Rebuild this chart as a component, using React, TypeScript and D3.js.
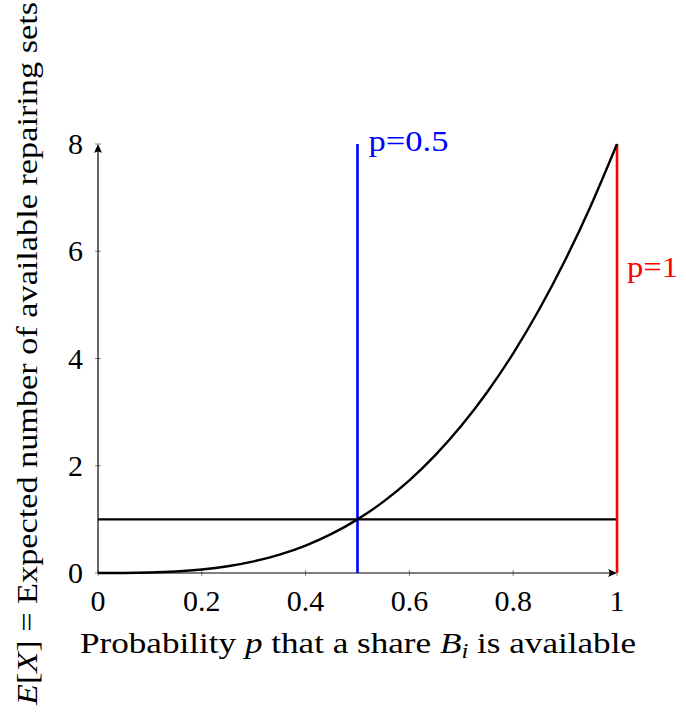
import React from "react";
import * as d3 from "d3";

const pValues = [0, 0.05, 0.1, 0.15, 0.2, 0.25, 0.3, 0.35, 0.4, 0.45, 0.5, 0.55, 0.6, 0.65, 0.7, 0.75, 0.8, 0.85, 0.9, 0.95, 1];
const expectedSets = [0, 0.001, 0.008, 0.027, 0.064, 0.125, 0.216, 0.343, 0.512, 0.729, 1, 1.331, 1.728, 2.197, 2.744, 3.375, 4.096, 4.913, 5.832, 6.859, 8];
const xTicks = [0, 0.2, 0.4, 0.6, 0.8, 1];
const xTickLabels = ["0", "0.2", "0.4", "0.6", "0.8", "1"];
const yTicks = [0, 2, 4, 6, 8];
const yTickLabels = ["0", "2", "4", "6", "8"];
const thresholdY = 1;
const markers = [
  { p: 0.5, label: "p=0.5", color: "#0000ff" },
  { p: 1, label: "p=1", color: "#ff0000" },
];

const W = 686;
const H = 717;
const ts: React.CSSProperties = { fontFamily: "Liberation Serif" };

export default function App() {
  const x = d3.scaleLinear().domain([0, 1]).range([98, 617]);
  const y = d3.scaleLinear().domain([0, 8]).range([573, 144]);
  const pts: [number, number][] = pValues.map((p, i) => [p, expectedSets[i]]);
  const line = d3
    .line<[number, number]>()
    .x((d) => x(d[0]))
    .y((d) => y(d[1]))
    .curve(d3.curveMonotoneX);

  const x0 = x(0), x1 = x(1), y0 = y(0), y8 = y(8);

  return (
    <svg width={W} height={H} style={{ position: "absolute", left: 0, top: 0, background: "#fff" }}>
      <rect width={W} height={H} fill="#fff" />
      {xTicks.map((t) => (
        <line key={"xt" + t} x1={x(t)} x2={x(t)} y1={y0 - 3} y2={y0 + 3} stroke="#888" strokeWidth={1} />
      ))}
      {yTicks.map((t) => (
        <line key={"yt" + t} x1={x0 - 3} x2={x0 + 3} y1={y(t)} y2={y(t)} stroke="#888" strokeWidth={1} />
      ))}
      <line x1={x0} x2={x1 - 2} y1={y0} y2={y0} stroke="#000" strokeWidth={1.2} />
      <line x1={x0} x2={x0} y1={y0} y2={y8 + 2} stroke="#000" strokeWidth={1.2} />
      <path d={`M${x1},${y0} L${x1 - 9},${y0 - 4} Q${x1 - 6},${y0} ${x1 - 9},${y0 + 4} Z`} fill="#000" />
      <path d={`M${x0},${y8} L${x0 - 4},${y8 + 9} Q${x0},${y8 + 6} ${x0 + 4},${y8 + 9} Z`} fill="#000" />
      <line x1={x0} x2={x1} y1={y(thresholdY)} y2={y(thresholdY)} stroke="#000" strokeWidth={2.2} />
      {markers.map((m) => (
        <line key={m.label} x1={x(m.p)} x2={x(m.p)} y1={y0} y2={y8} stroke={m.color} strokeWidth={2.6} />
      ))}
      <path d={line(pts) || ""} fill="none" stroke="#000" strokeWidth={2.4} />
      <text style={ts} x={x(0.5) + 11} y={151} fontSize={30} fill="#0000ff" textLength={80} lengthAdjust="spacingAndGlyphs">{markers[0].label}</text>
      <text style={ts} x={x(1) + 10} y={277} fontSize={30} fill="#ff0000" textLength={51} lengthAdjust="spacingAndGlyphs">{markers[1].label}</text>
      {xTicks.map((t, i) => (
        <text style={ts} key={"xl" + t} x={x(t)} y={611} fontSize={30} textAnchor="middle" fill="#000">{xTickLabels[i]}</text>
      ))}
      {yTicks.map((t, i) => (
        <text style={ts} key={"yl" + t} x={83} y={y(t) + 10} fontSize={30} textAnchor="end" fill="#000">{yTickLabels[i]}</text>
      ))}
      <text style={ts} x={358} y={653} fontSize={30} textAnchor="middle" fill="#000" textLength={556} lengthAdjust="spacingAndGlyphs">
        Probability <tspan fontStyle="italic">p</tspan> that a share <tspan fontStyle="italic">B</tspan>
        <tspan fontStyle="italic" fontSize={21} dy={5}>i</tspan>
        <tspan dy={-5}> is available</tspan>
      </text>
      <text style={ts} transform="translate(37,353.5) rotate(-90)" fontSize={30} textAnchor="middle" fill="#000" textLength={703} lengthAdjust="spacingAndGlyphs">
        <tspan fontStyle="italic">E</tspan>[<tspan fontStyle="italic">X</tspan>] = Expected number of available repairing sets
      </text>
    </svg>
  );
}
